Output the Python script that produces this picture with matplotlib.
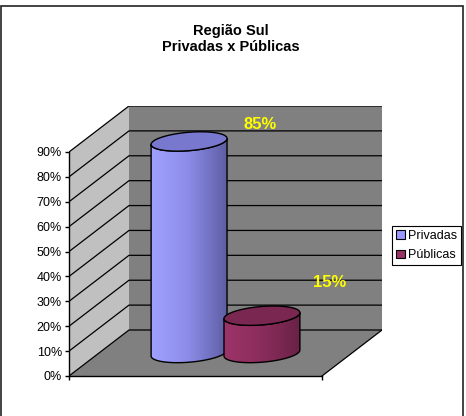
import numpy as np
import matplotlib
matplotlib.use('Agg')
import matplotlib.pyplot as plt
from matplotlib.patches import Polygon, Patch, Rectangle
from matplotlib.colors import LinearSegmentedColormap

plt.rcParams['font.family'] = ['Liberation Sans', 'DejaVu Sans']

# data
title = 'Região Sul\nPrivadas x Públicas'
series = ['Privadas', 'Públicas']
values = [85, 15]  # percent
value_labels = ['85%', '15%']
yticks = [0, 10, 20, 30, 40, 50, 60, 70, 80, 90]
ytick_labels = [f'{t}%' for t in yticks]

# style
side_colors = [['#A0A0FF', '#8C8CE8', '#5E5EA4'], ['#9C3468', '#8A2D5C', '#6A2246']]
top_colors = ['#7878CE', '#7A2852']
legend_colors = ['#9999FF', '#993366']
series_offset = [-0.144, 0.144]
label_offset = [(51, 12), (49, 24)]  # points, from top of each cylinder

DX = 60 / 253          # depth shift in x units
DY = 46 / (224 / 90)   # depth shift in percent units
ymax = 90

fig = plt.figure(figsize=(4.66, 4.16), dpi=100)
fig.add_artist(Rectangle((1 / 466, -0.05), 462 / 466, 1 - 6 / 416 + 0.05,
                         transform=fig.transFigure, fill=False, edgecolor='#222222', lw=1.2))

ax = fig.add_axes([69 / 466, 40 / 416, 313 / 466, 270 / 416])

# walls and floor
ax.add_patch(Polygon([(0, 0), (DX, DY), (DX, ymax + DY), (0, ymax)], closed=True,
                     facecolor='#C0C0C0', edgecolor='none', zorder=1))
ax.add_patch(Polygon([(DX, DY), (1 + DX, DY), (1 + DX, ymax + DY), (DX, ymax + DY)], closed=True,
                     facecolor='#808080', edgecolor='none', zorder=1))
ax.add_patch(Polygon([(0, 0), (1, 0), (1 + DX, DY), (DX, DY)], closed=True,
                     facecolor='#808080', edgecolor='none', zorder=1))
for t in yticks:
    ax.plot([0, DX, 1 + DX], [t, t + DY, t + DY], color='black', lw=0.9, zorder=1.5)
ax.plot([1, 1 + DX], [0, DY], color='black', lw=0.9, zorder=1.5)

# cylinders
a = 0.15
b = 3.7
s = 8.0
tt = np.linspace(0, 2 * np.pi, 240)
for i, v in enumerate(values):
    cx = 0.5 + series_offset[i] + 0.5 * DX
    cy0 = 0.5 * DY
    cy1 = v + 0.5 * DY
    lower = tt[(tt >= np.pi)]
    bx = cx + a * np.cos(lower)
    by = cy0 + b * np.sin(lower) + s * a * np.cos(lower)
    tx = cx + a * np.cos(lower[::-1])
    ty = cy1 + b * np.sin(lower[::-1]) + s * a * np.cos(lower[::-1])
    body_x = np.concatenate([[cx - a], bx, tx])
    body_y = np.concatenate([[cy1 - s * a], by, ty])
    z = 3 + i * 3
    body = Polygon(np.column_stack([body_x, body_y]), closed=True,
                   facecolor='none', edgecolor='black', lw=1.0, zorder=z + 1)
    ax.add_patch(body)
    cmap = LinearSegmentedColormap.from_list('c%d' % i, side_colors[i])
    grad = np.linspace(0, 1, 128).reshape(1, -1)
    im = ax.imshow(grad, extent=[cx - a, cx + a, cy0 - b - 3, cy1 + b + 3],
                   aspect='auto', cmap=cmap, zorder=z, interpolation='bilinear')
    im.set_clip_path(body)
    ex = cx + a * np.cos(tt)
    ey = cy1 + b * np.sin(tt) + s * a * np.cos(tt)
    ax.add_patch(Polygon(np.column_stack([ex, ey]), closed=True,
                         facecolor=top_colors[i], edgecolor='black', lw=1.0, zorder=z + 2))
    ax.annotate(value_labels[i], xy=(cx, cy1), xytext=label_offset[i], textcoords='offset points',
                color='#FFFF00', fontweight='bold', fontsize=12, ha='center', va='center', zorder=10)

ax.set_xlim(0, 1 + DX)
ax.set_ylim(0, ymax + DY)
ax.patch.set_visible(False)
for side in ['top', 'right']:
    ax.spines[side].set_visible(False)
ax.spines['left'].set_bounds(0, ymax)
ax.spines['bottom'].set_bounds(0, 1)
for side in ['left', 'bottom']:
    ax.spines[side].set_linewidth(1.0)
    ax.spines[side].set_color('black')
ax.set_yticks(yticks)
ax.set_yticklabels(ytick_labels)
ax.set_xticks([0, 1])
ax.set_xticklabels(['', ''])
ax.tick_params(direction='out', length=3, width=1, labelsize=9, pad=2)

fig.text(231 / 466, 1 - 39 / 416, title, ha='center', va='center',
         fontweight='bold', fontsize=10.5, linespacing=1.25)

handles = [Patch(facecolor=c, edgecolor='black', lw=0.8) for c in legend_colors]
leg = fig.legend(handles, series, loc='center left', bbox_to_anchor=(392 / 466, 1 - 245.5 / 416),
                 frameon=True, fancybox=False, edgecolor='black', framealpha=1, fontsize=9,
                 borderpad=0.3, handlelength=0.7, handleheight=0.7, handletextpad=0.3,
                 labelspacing=0.6, borderaxespad=0)
leg.get_frame().set_linewidth(0.8)

fig.savefig('out.png', dpi=100)
